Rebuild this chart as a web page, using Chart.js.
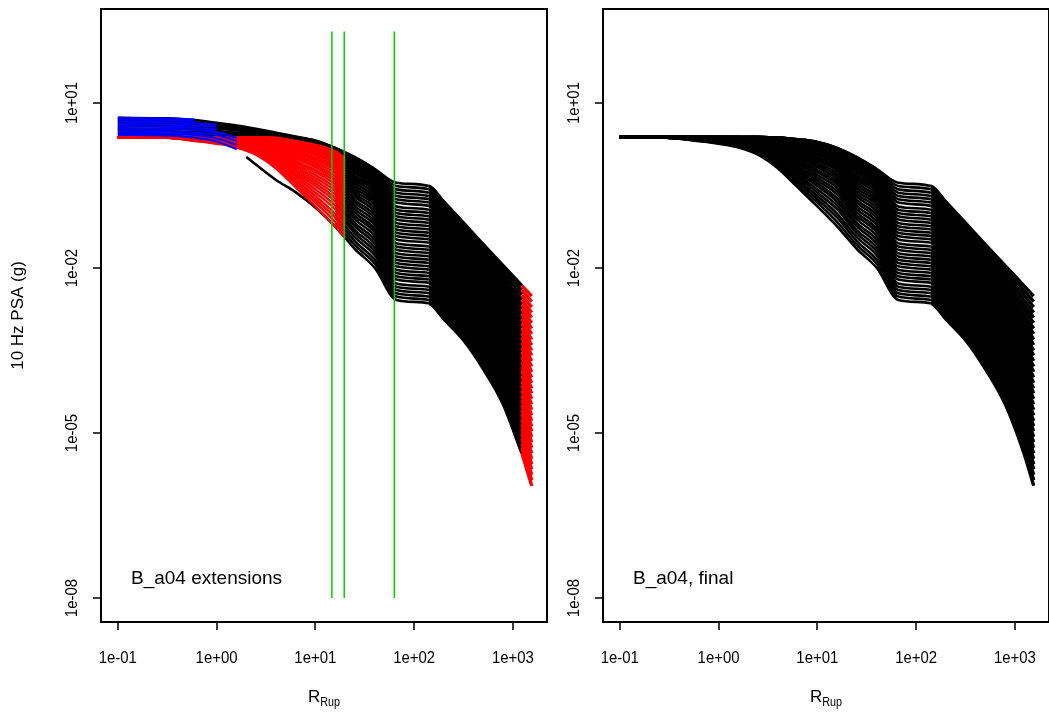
<!DOCTYPE html>
<html>
<head>
<meta charset="utf-8">
<title>B_a04 10 Hz PSA</title>
<script src="https://cdn.jsdelivr.net/npm/chart.js@4.4.1/dist/chart.umd.min.js"></script>
<style>
  html, body { margin: 0; padding: 0; background: #fff; overflow: hidden; }
  #wrap { position: relative; width: 1049px; height: 713px; overflow: hidden; }
  canvas { position: absolute; top: 0; }
  #leftPanel { left: 0; }
  #rightPanel { left: 560px; }
</style>
</head>
<body>
<div id="wrap">
  <canvas id="leftPanel" width="560" height="713"></canvas>
  <canvas id="rightPanel" width="500" height="713"></canvas>
</div>
<script>
// 10 Hz PSA attenuation curves, one curve per magnitude step (bottom = smallest)
// Values are log10(PSA in g), one array per rupture distance.

const DIST_KM = [0.1, 0.3, 0.6, 1, 1.6, 2.5, 4, 6.3, 10, 16, 25, 40, 66, 141, 200, 316, 500, 800, 1230, 1550];

const logPsa0p1 = [0.38,0.38,0.38,0.38,0.38,0.38,0.38,0.38,0.38,0.38,0.38,0.38,0.38,0.38,0.38,0.38,0.38,0.38,0.38,0.38,0.38,0.38,0.38,0.38,0.38,0.38,0.38,0.38,0.38,0.38,0.38,0.38,0.38,0.38,0.38,0.38];
const logPsa0p3 = [0.37,0.37,0.37,0.37,0.37,0.37,0.37,0.37,0.38,0.38,0.38,0.38,0.38,0.38,0.38,0.38,0.38,0.38,0.38,0.38,0.38,0.38,0.38,0.38,0.38,0.38,0.38,0.38,0.38,0.38,0.38,0.38,0.38,0.38,0.38,0.38];
const logPsa0p6 = [0.31,0.32,0.32,0.33,0.33,0.34,0.34,0.34,0.35,0.35,0.35,0.36,0.36,0.36,0.37,0.37,0.37,0.37,0.37,0.37,0.37,0.38,0.38,0.38,0.38,0.38,0.38,0.38,0.38,0.38,0.38,0.38,0.38,0.38,0.38,0.38];
const logPsa1 = [0.26,0.27,0.28,0.29,0.30,0.30,0.31,0.32,0.32,0.33,0.34,0.34,0.35,0.35,0.35,0.36,0.36,0.36,0.37,0.37,0.37,0.37,0.37,0.38,0.38,0.38,0.38,0.38,0.38,0.38,0.38,0.38,0.38,0.38,0.38,0.38];
const logPsa1p6 = [0.19,0.21,0.22,0.23,0.25,0.26,0.27,0.28,0.29,0.30,0.31,0.32,0.33,0.33,0.34,0.34,0.35,0.35,0.36,0.36,0.37,0.37,0.37,0.37,0.37,0.38,0.38,0.38,0.38,0.38,0.38,0.38,0.38,0.38,0.38,0.38];
const logPsa2p5 = [0.06,0.09,0.11,0.14,0.16,0.18,0.20,0.22,0.23,0.25,0.26,0.28,0.29,0.30,0.31,0.32,0.33,0.34,0.34,0.35,0.35,0.36,0.36,0.37,0.37,0.37,0.37,0.38,0.38,0.38,0.38,0.38,0.38,0.38,0.38,0.38];
const logPsa4 = [-0.19,-0.14,-0.10,-0.06,-0.02,0.02,0.05,0.08,0.11,0.14,0.17,0.19,0.21,0.23,0.25,0.27,0.28,0.29,0.31,0.32,0.33,0.33,0.34,0.35,0.35,0.36,0.36,0.36,0.37,0.37,0.37,0.37,0.37,0.37,0.37,0.37];
const logPsa6p3 = [-0.53,-0.48,-0.43,-0.39,-0.34,-0.30,-0.26,-0.22,-0.18,-0.14,-0.10,-0.07,-0.04,0.00,0.03,0.06,0.08,0.11,0.13,0.16,0.18,0.20,0.22,0.24,0.25,0.27,0.28,0.29,0.31,0.31,0.32,0.33,0.33,0.34,0.34,0.34];
const logPsa10 = [-0.88,-0.81,-0.75,-0.69,-0.63,-0.57,-0.51,-0.46,-0.41,-0.36,-0.31,-0.26,-0.22,-0.17,-0.13,-0.09,-0.05,-0.02,0.01,0.05,0.08,0.10,0.13,0.15,0.17,0.19,0.21,0.23,0.24,0.26,0.27,0.27,0.28,0.29,0.29,0.29];
const logPsa16 = [-1.25,-1.17,-1.09,-1.02,-0.94,-0.87,-0.80,-0.74,-0.67,-0.61,-0.55,-0.49,-0.44,-0.39,-0.34,-0.29,-0.24,-0.20,-0.16,-0.12,-0.08,-0.05,-0.02,0.01,0.04,0.06,0.09,0.11,0.12,0.14,0.15,0.16,0.17,0.18,0.18,0.18];
const logPsa25 = [-1.65,-1.58,-1.51,-1.44,-1.37,-1.31,-1.24,-1.18,-1.11,-1.05,-0.99,-0.93,-0.87,-0.81,-0.76,-0.70,-0.65,-0.60,-0.55,-0.50,-0.45,-0.40,-0.36,-0.32,-0.27,-0.24,-0.20,-0.16,-0.13,-0.10,-0.07,-0.04,-0.02,0.00,0.01,0.02];
const logPsa40 = [-2.00,-1.92,-1.85,-1.77,-1.70,-1.63,-1.56,-1.49,-1.42,-1.35,-1.29,-1.22,-1.16,-1.10,-1.04,-0.98,-0.92,-0.86,-0.81,-0.76,-0.71,-0.66,-0.61,-0.56,-0.52,-0.47,-0.43,-0.40,-0.36,-0.33,-0.30,-0.27,-0.25,-0.22,-0.21,-0.20];
const logPsa66 = [-2.58,-2.52,-2.46,-2.40,-2.34,-2.28,-2.21,-2.15,-2.09,-2.03,-1.97,-1.91,-1.85,-1.79,-1.73,-1.67,-1.61,-1.55,-1.48,-1.42,-1.36,-1.30,-1.24,-1.18,-1.12,-1.06,-1.00,-0.94,-0.88,-0.81,-0.75,-0.69,-0.63,-0.57,-0.51,-0.45];
const logPsa141 = [-2.64,-2.58,-2.52,-2.46,-2.40,-2.34,-2.27,-2.21,-2.15,-2.09,-2.03,-1.97,-1.91,-1.85,-1.79,-1.73,-1.67,-1.61,-1.54,-1.48,-1.42,-1.36,-1.30,-1.24,-1.18,-1.12,-1.06,-1.00,-0.94,-0.87,-0.81,-0.75,-0.69,-0.63,-0.57,-0.51];
const logPsa200 = [-2.93,-2.87,-2.81,-2.75,-2.69,-2.63,-2.56,-2.50,-2.44,-2.38,-2.32,-2.26,-2.20,-2.14,-2.08,-2.02,-1.96,-1.90,-1.83,-1.77,-1.71,-1.65,-1.59,-1.53,-1.47,-1.41,-1.35,-1.29,-1.23,-1.16,-1.10,-1.04,-0.98,-0.92,-0.86,-0.80];
const logPsa316 = [-3.31,-3.25,-3.19,-3.13,-3.07,-3.01,-2.94,-2.88,-2.82,-2.76,-2.70,-2.64,-2.58,-2.52,-2.46,-2.40,-2.34,-2.28,-2.21,-2.15,-2.09,-2.03,-1.97,-1.91,-1.85,-1.79,-1.73,-1.67,-1.61,-1.54,-1.48,-1.42,-1.36,-1.30,-1.24,-1.18];
const logPsa500 = [-3.83,-3.77,-3.70,-3.64,-3.57,-3.51,-3.44,-3.38,-3.31,-3.25,-3.18,-3.12,-3.05,-2.99,-2.93,-2.86,-2.80,-2.73,-2.67,-2.60,-2.54,-2.47,-2.41,-2.34,-2.28,-2.21,-2.15,-2.09,-2.02,-1.96,-1.89,-1.83,-1.76,-1.70,-1.63,-1.57];
const logPsa800 = [-4.48,-4.41,-4.34,-4.26,-4.19,-4.12,-4.05,-3.98,-3.90,-3.83,-3.76,-3.69,-3.62,-3.54,-3.47,-3.40,-3.33,-3.26,-3.18,-3.11,-3.04,-2.97,-2.90,-2.82,-2.75,-2.68,-2.61,-2.54,-2.46,-2.39,-2.32,-2.25,-2.18,-2.10,-2.03,-1.96];
const logPsa1230 = [-5.36,-5.27,-5.19,-5.10,-5.01,-4.93,-4.84,-4.75,-4.66,-4.58,-4.49,-4.40,-4.32,-4.23,-4.14,-4.06,-3.97,-3.88,-3.80,-3.71,-3.62,-3.53,-3.45,-3.36,-3.27,-3.19,-3.10,-3.01,-2.93,-2.84,-2.75,-2.67,-2.58,-2.49,-2.40,-2.32];
const logPsa1550 = [-5.96,-5.86,-5.76,-5.66,-5.57,-5.47,-5.37,-5.27,-5.17,-5.07,-4.97,-4.88,-4.78,-4.68,-4.58,-4.48,-4.38,-4.28,-4.19,-4.09,-3.99,-3.89,-3.79,-3.69,-3.59,-3.50,-3.40,-3.30,-3.20,-3.10,-3.00,-2.90,-2.81,-2.71,-2.61,-2.51];

// short-distance extension end points (20 km) for the lower curves
const extLogPsa20 = [-1.45,-1.38,-1.30,-1.23,-1.16,-1.09,-1.02,-0.96,-0.89,-0.83,-0.77,-0.71,-0.66,-0.60,-0.55,-0.50,-0.45,-0.40,-0.36,-0.31,-0.27,-0.23,-0.19,-0.16,-0.12,-0.09,-0.06,-0.03,0.00];

// original model near field of the seven largest magnitudes
const BAND_DIST = [0.1, 0.3, 0.6, 1, 1.6, 2.5, 4, 6.3, 10];
const band0p1 = [0.45,0.50,0.54,0.59,0.64,0.68,0.73];
const band0p3 = [0.44,0.49,0.53,0.58,0.63,0.67,0.72];
const band0p6 = [0.43,0.47,0.52,0.56,0.60,0.65,0.69];
const band1 = [0.41,0.45,0.49,0.53,0.56,0.60,0.64];
const band1p6 = [0.40,0.43,0.46,0.50,0.53,0.56,0.59];
const band2p5 = [0.39,0.41,0.44,0.46,0.48,0.51,0.53];
const band4 = [0.37,0.39,0.40,0.42,0.43,0.45,0.46];
const band6p3 = [0.32,0.33,0.34,0.36,0.37,0.38,0.39];
const band10 = [0.26,0.27,0.28,0.29,0.30,0.31,0.32];

// original model near field of the smallest magnitude
const LOW_DIST = [2, 2.5, 4, 6.3, 10];
const lowLogPsa = [0.02, -0.12, -0.40, -0.62, -0.90];

// below-minimum-distance segments
const BLUE_DIST = [0.1, 0.3, 0.6, 1, 1.6];
const blue0p1 = [0.42,0.46,0.50,0.54,0.58,0.62,0.66,0.70,0.73];
const blue0p3 = [0.41,0.45,0.49,0.53,0.57,0.61,0.65,0.69,0.72];
const blue0p6 = [0.37,0.42,0.46,0.51,0.55,0.59,0.63,0.67,0.70];
const blue1 = [0.30,0.36,0.42,0.47,0.52,0.57,0.61,null,null];
const blue1p6 = [0.16,0.24,0.31,0.37,null,null,null,null,null];

// distance limits marked in the left panel
const GREEN_R = [14.7, 19.6, 63];
const GREEN_SPAN = [1e-8, 200];

const X_TICKS = [0.1, 1, 10, 100, 1000];
const X_TICK_LABELS = ['1e-01', '1e+00', '1e+01', '1e+02', '1e+03'];
const Y_TICKS = [10, 1e-2, 1e-5, 1e-8];
const Y_TICK_LABELS = ['1e+01', '1e-02', '1e-05', '1e-08'];

const FINAL_COLS = [logPsa0p1, logPsa0p3, logPsa0p6, logPsa1, logPsa1p6, logPsa2p5, logPsa4, logPsa6p3,
  logPsa10, logPsa16, logPsa25, logPsa40, logPsa66, logPsa141, logPsa200, logPsa316, logPsa500,
  logPsa800, logPsa1230, logPsa1550];
const BAND_COLS = [band0p1, band0p3, band0p6, band1, band1p6, band2p5, band4, band6p3, band10];
const BLUE_COLS = [blue0p1, blue0p3, blue0p6, blue1, blue1p6];

const N_CURVES = logPsa66.length;
const FONT = '"Liberation Sans", Arial, sans-serif';

// axis limits (R-style 4% padding around the data)
const X_MIN = Math.pow(10, -1.17), X_MAX = Math.pow(10, 3.345);
const Y_MIN = Math.pow(10, -8.436), Y_MAX = Math.pow(10, 2.709);

// beyond the Moho-bounce plateau the curves crowd together; draw them heavier
const FAR_FIELD_KM = 141;
const NEAR_WIDTH = 2.6, FAR_WIDTH = 3.4;

function points(dists, cols, k) {
  const out = [];
  dists.forEach((d, i) => {
    const v = cols[i][k];
    if (v !== null && v !== undefined) out.push({ x: d, y: Math.pow(10, v) });
  });
  return out;
}

function line(data, color, order, width) {
  return {
    data: data,
    borderColor: color,
    borderWidth: width || NEAR_WIDTH,
    pointRadius: 0,
    fill: false,
    cubicInterpolationMode: 'monotone',
    order: order
  };
}

function blackCurve(data) {
  const ds = line(data, '#000000', 3);
  ds.segment = {
    borderWidth: ctx => (data[ctx.p0DataIndex].x >= FAR_FIELD_KM ? FAR_WIDTH : NEAR_WIDTH)
  };
  return ds;
}

// Left panel: model curves plus the extensions
const i16 = DIST_KM.indexOf(16), i1230 = DIST_KM.indexOf(1230);
const modelDist = DIST_KM.slice(i16, i1230 + 1);
const modelCols = FINAL_COLS.slice(i16, i1230 + 1);
const nearDist = DIST_KM.slice(0, i16 + 1);
const nearCols = FINAL_COLS.slice(0, i16 + 1);
const bandStart = N_CURVES - band0p1.length;

const leftSets = [];
for (let k = 0; k < N_CURVES; k++) {
  let near = [];
  if (k === 0) near = LOW_DIST.map((d, i) => ({ x: d, y: Math.pow(10, lowLogPsa[i]) }));
  else if (k >= bandStart) near = points(BAND_DIST, BAND_COLS, k - bandStart);
  leftSets.push(blackCurve(near.concat(points(modelDist, modelCols, k))));
}
for (let k = 0; k < extLogPsa20.length; k++) {
  const seg = points(nearDist, nearCols, k);
  seg.push({ x: 20, y: Math.pow(10, extLogPsa20[k]) });
  leftSets.push(line(seg, '#ff0000', 2, 2.4));
}
for (let k = 0; k < N_CURVES; k++) {
  leftSets.push(line(points([1230, 1550], [logPsa1230, logPsa1550], k), '#ff0000', 2, FAR_WIDTH));
}
for (let j = 0; j < blue0p1.length; j++) {
  leftSets.push(line(points(BLUE_DIST, BLUE_COLS, j), '#0000ff', 1, 2.2));
}
GREEN_R.forEach(r => {
  leftSets.push(line([{ x: r, y: GREEN_SPAN[0] }, { x: r, y: GREEN_SPAN[1] }], '#00cd00', 0, 1.5));
});

// Right panel: final curves
const rightSets = [];
for (let k = 0; k < N_CURVES; k++) {
  rightSets.push(blackCurve(points(DIST_KM, FINAL_COLS, k)));
}

// box, R-style ticks and all the text
const axisDecor = {
  id: 'axisDecor',
  afterDraw(chart, args, opts) {
    const { ctx, chartArea: a } = chart;
    const x = chart.scales.x, y = chart.scales.y;
    ctx.save();
    ctx.strokeStyle = '#000';
    ctx.lineWidth = 2;
    ctx.strokeRect(a.left, a.top, a.right - a.left, a.bottom - a.top);

    ctx.lineWidth = 1.5;
    ctx.beginPath();
    X_TICKS.forEach(v => {
      const px = Math.round(x.getPixelForValue(v));
      ctx.moveTo(px, a.bottom);
      ctx.lineTo(px, a.bottom + 8);
    });
    Y_TICKS.forEach(v => {
      const py = Math.round(y.getPixelForValue(v));
      ctx.moveTo(a.left, py);
      ctx.lineTo(a.left - 8, py);
    });
    ctx.stroke();

    ctx.fillStyle = '#000';
    ctx.textBaseline = 'middle';
    ctx.font = '17px ' + FONT;
    X_TICKS.forEach((v, i) => {
      drawText(ctx, X_TICK_LABELS[i], x.getPixelForValue(v), a.bottom + 36, 'center', 0, 0.88);
    });
    Y_TICKS.forEach((v, i) => {
      drawText(ctx, Y_TICK_LABELS[i], a.left - 29, y.getPixelForValue(v), 'center', -Math.PI / 2, 0.88);
    });

    // x title with subscript
    const cx = (a.left + a.right) / 2, ty = a.bottom + 75;
    ctx.font = '17px ' + FONT;
    const wR = ctx.measureText('R').width;
    ctx.font = '12px ' + FONT;
    const wSub = ctx.measureText('Rup').width * 0.9;
    const x0 = cx - (wR + wSub) / 2;
    ctx.font = '17px ' + FONT;
    drawText(ctx, 'R', x0, ty, 'left', 0, 1);
    ctx.font = '12px ' + FONT;
    drawText(ctx, 'Rup', x0 + wR, ty + 6, 'left', 0, 0.9);

    if (opts.yTitle) {
      ctx.font = '17px ' + FONT;
      drawText(ctx, opts.yTitle, 18, (a.top + a.bottom) / 2, 'center', -Math.PI / 2, 1);
    }
    ctx.font = '19px ' + FONT;
    drawText(ctx, opts.panelLabel, a.left + 30, 579, 'left', 0, 1);
    ctx.restore();
  }
};

// text helper: optional horizontal squeeze for the narrow axis labels
function drawText(ctx, text, x, y, align, rot, squeeze) {
  ctx.save();
  ctx.translate(x, y);
  ctx.rotate(rot);
  ctx.scale(squeeze, 1);
  ctx.textAlign = align;
  ctx.fillText(text, 0, 0);
  ctx.restore();
}

function makeChart(id, datasets, padding, decor) {
  return new Chart(document.getElementById(id), {
    type: 'line',
    data: { datasets: datasets },
    options: {
      responsive: false,
      animation: false,
      events: [],
      devicePixelRatio: 1,
      layout: { padding: padding },
      plugins: {
        legend: { display: false },
        tooltip: { enabled: false },
        axisDecor: decor
      },
      scales: {
        x: { type: 'logarithmic', min: X_MIN, max: X_MAX, display: false },
        y: { type: 'logarithmic', min: Y_MIN, max: Y_MAX, display: false }
      }
    },
    plugins: [axisDecor]
  });
}

makeChart('leftPanel', leftSets, { left: 101, right: 13, top: 9, bottom: 91 },
  { yTitle: '10 Hz PSA (g)', panelLabel: 'B_a04 extensions' });
makeChart('rightPanel', rightSets, { left: 43, right: 11, top: 9, bottom: 91 },
  { yTitle: null, panelLabel: 'B_a04, final' });
</script>
</body>
</html>
